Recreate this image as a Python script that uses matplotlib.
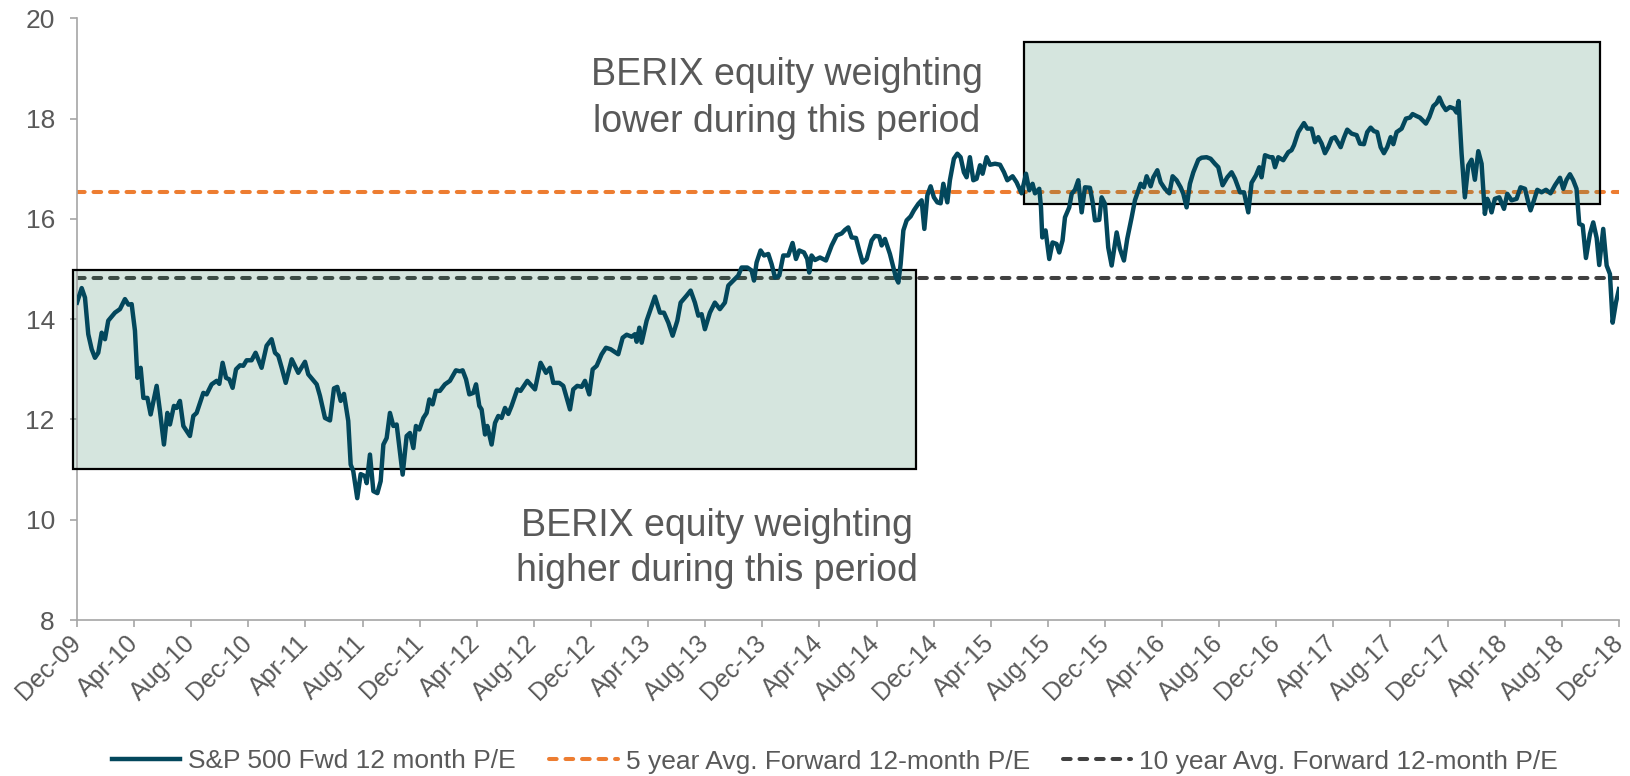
import matplotlib

matplotlib.use("Agg")

import matplotlib.pyplot as plt
from matplotlib.patches import Rectangle

# ========================
# Data
# ========================
# months since Dec-09 and S&P 500 forward 12 month P/E
pe_month = [
    0.0, 0.33, 0.56, 0.79, 1.03, 1.26, 1.49, 1.73, 1.96, 2.19, 2.66, 3.01, 3.36, 3.60, 3.83,
    4.06, 4.23, 4.46, 4.65, 4.93, 5.16, 5.58, 5.81, 6.09, 6.33, 6.51, 6.79, 6.98, 7.21, 7.45,
    7.91, 8.15, 8.38, 8.85, 9.08, 9.43, 9.78, 9.97, 10.20, 10.44, 10.67, 10.90, 11.14, 11.42,
    11.65, 11.88, 12.23, 12.51, 12.93, 13.28, 13.63, 13.87, 14.10, 14.34, 14.62, 15.04, 15.50,
    15.97, 16.20, 16.79, 17.02, 17.37, 17.72, 18.00, 18.23, 18.47, 18.70, 19.00, 19.17, 19.35,
    19.63, 19.87, 20.17, 20.29, 20.52, 20.76, 21.04, 21.27, 21.46, 21.69, 21.92, 22.16, 22.39,
    22.81, 23.09, 23.32, 23.56, 23.74, 23.98, 24.26, 24.49, 24.68, 24.91, 25.14,
    25.42, 25.77, 26.12, 26.54, 26.82, 27.01, 27.25, 27.48, 27.76, 27.95, 28.18, 28.34, 28.58,
    28.74, 29.04, 29.28, 29.51, 29.74, 29.98, 30.21, 30.44, 30.84, 31.07, 31.54, 32.08, 32.47,
    32.85, 33.13, 33.36, 33.78, 34.06, 34.53, 34.76, 35.04, 35.35, 35.58, 35.88, 36.12, 36.40,
    36.75, 37.05, 37.38, 37.91, 38.22, 38.50, 38.85, 39.08, 39.20, 39.39, 39.55, 39.90, 40.18,
    40.48, 40.83, 41.11, 41.42, 41.72, 42.05, 42.28, 42.70, 42.98, 43.28, 43.52, 43.75, 43.98,
    44.33, 44.68, 45.03, 45.38, 45.62, 45.97, 46.32, 46.55, 46.95, 47.25, 47.42, 47.60, 47.88,
    48.12, 48.42, 48.65, 48.89, 49.19, 49.47, 49.82, 50.12, 50.36, 50.59, 50.92, 51.15, 51.29,
    51.45, 51.69, 52.04, 52.46, 52.86, 53.21, 53.56, 53.79,
    54.02, 54.26, 54.56, 54.79, 55.03, 55.31, 55.66, 55.89, 56.19, 56.36, 56.59, 56.94, 57.18,
    57.36, 57.53, 57.69, 57.88, 58.11, 58.39, 58.62, 58.93, 59.16, 59.35, 59.56, 59.79, 60.02,
    60.26, 60.49, 60.68, 60.96, 61.14, 61.42, 61.66, 61.89, 62.12, 62.31, 62.54, 62.78, 63.01,
    63.25, 63.43, 63.71, 63.95, 64.30, 64.65, 64.93, 65.16, 65.53, 65.81, 66.16, 66.47, 66.70,
    66.93, 67.10, 67.40, 67.52, 67.61, 67.84, 68.10, 68.33, 68.61, 68.80, 69.03, 69.20, 69.50,
    69.67, 69.90, 70.13, 70.37, 70.60, 70.95, 71.14, 71.30, 71.60, 71.77, 72.00, 72.23, 72.47,
    72.82, 73.05, 73.33, 73.56, 73.87, 74.10, 74.50, 74.73, 74.92, 75.20, 75.39, 75.67, 75.90,
    76.20, 76.51, 76.74, 77.02, 77.30, 77.49, 77.72, 77.95, 78.19, 78.54, 78.77, 79.12, 79.40,
    79.70, 79.94, 80.24, 80.57, 80.87, 81.11, 81.46, 81.74, 82.04,
    82.27, 82.58, 82.81, 82.97, 83.21, 83.56, 83.74, 83.91, 84.14, 84.49, 84.84, 85.07, 85.24,
    85.54, 85.94, 86.17, 86.48, 86.71, 86.94, 87.18, 87.41, 87.64, 87.88, 88.11, 88.51, 88.74,
    88.97, 89.28, 89.63, 89.86, 90.14, 90.37, 90.61, 90.84, 91.07, 91.31, 91.54, 91.77, 92.01,
    92.20, 92.43, 92.78, 93.08, 93.36, 93.55, 93.83, 94.06, 94.48, 94.72, 95.00, 95.23, 95.42,
    95.65, 95.88, 96.16, 96.44, 96.63, 96.77, 96.98, 97.21, 97.45, 97.68, 97.91, 98.15, 98.38,
    98.61, 98.78, 98.96, 99.08, 99.31, 99.62, 99.95, 100.18, 100.48, 100.83, 101.11, 101.42,
    101.65, 101.81, 102.05, 102.28, 102.58, 102.89, 103.21, 103.52, 103.87, 104.10, 104.33,
    104.57, 104.80, 105.03, 105.22, 105.46, 105.69, 105.97, 106.20, 106.44, 106.62, 106.90,
    107.14, 107.37, 107.56, 107.79, 108.0,
]
pe_value = [
    14.33, 14.62, 14.43, 13.70, 13.40, 13.23, 13.33, 13.73, 13.60, 13.97, 14.13, 14.20, 14.40, 14.29, 14.30,
    13.77, 12.83, 13.03, 12.43, 12.43, 12.10, 12.67, 12.17, 11.50, 12.13, 11.90, 12.27, 12.23, 12.37, 11.87,
    11.67, 12.07, 12.13, 12.53, 12.50, 12.70, 12.77, 12.71, 13.13, 12.83, 12.80, 12.63, 13.00, 13.08,
    13.07, 13.18, 13.18, 13.33, 13.03, 13.47, 13.60, 13.33, 13.27, 13.03, 12.73, 13.20, 12.93,
    13.15, 12.90, 12.70, 12.47, 12.03, 11.98, 12.62, 12.65, 12.37, 12.51, 11.97, 11.10, 10.97,
    10.43, 10.91, 10.87, 10.73, 11.30, 10.57, 10.53, 10.77, 11.50, 11.63, 12.13, 11.87, 11.90,
    10.90, 11.67, 11.73, 11.43, 11.87, 11.80, 12.03, 12.13, 12.40, 12.30, 12.57,
    12.57, 12.70, 12.77, 12.98, 12.96, 12.98, 12.80, 12.50, 12.53, 12.70, 12.27, 12.20, 11.70,
    11.87, 11.50, 11.93, 12.07, 12.03, 12.23, 12.11, 12.27, 12.60, 12.57, 12.77, 12.60, 13.13,
    12.93, 13.03, 12.73, 12.73, 12.67, 12.20, 12.60, 12.67, 12.65, 12.77, 12.50, 13.00, 13.07,
    13.30, 13.43, 13.40, 13.30, 13.63, 13.69, 13.65, 13.70, 13.55, 13.83, 13.53, 13.97, 14.20,
    14.45, 14.13, 14.13, 13.93, 13.67, 13.97, 14.33, 14.47, 14.57, 14.33, 14.07, 14.10, 13.80,
    14.13, 14.33, 14.20, 14.33, 14.67, 14.77, 14.87, 15.03, 15.03, 14.97, 14.77, 15.13, 15.37,
    15.27, 15.30, 15.10, 14.83, 14.87, 15.27, 15.27, 15.52, 15.20, 15.37, 15.33, 15.20, 14.93,
    15.27, 15.18, 15.23, 15.17, 15.47, 15.67, 15.71, 15.78,
    15.83, 15.63, 15.62, 15.37, 15.13, 15.20, 15.57, 15.66, 15.65, 15.47, 15.60, 15.30, 15.03,
    14.83, 14.73, 15.10, 15.77, 15.97, 16.05, 16.17, 16.30, 16.37, 15.80, 16.47, 16.65, 16.43,
    16.33, 16.31, 16.70, 16.33, 16.77, 17.20, 17.30, 17.23, 16.93, 16.83, 17.23, 16.77, 16.80,
    17.07, 16.90, 17.23, 17.08, 17.10, 17.08, 16.93, 16.77, 16.85, 16.73, 16.51, 16.90, 16.57,
    16.70, 16.51, 16.60, 16.23, 15.63, 15.77, 15.20, 15.53, 15.50, 15.33, 15.57, 16.03, 16.23,
    16.50, 16.58, 16.77, 16.13, 16.63, 16.62, 16.33, 15.97, 15.98, 16.43, 16.30, 15.43, 15.07,
    15.73, 15.40, 15.17, 15.60, 16.03, 16.37, 16.70, 16.63, 16.85, 16.65, 16.83, 16.97, 16.73,
    16.60, 16.51, 16.85, 16.77, 16.63, 16.50, 16.23, 16.70, 16.93, 17.18, 17.22, 17.23, 17.20,
    17.10, 17.03, 16.67, 16.83, 16.93, 16.80, 16.53, 16.53, 16.13,
    16.72, 16.87, 17.03, 16.83, 17.27, 17.23, 17.23, 17.03, 17.23, 17.17, 17.33, 17.37, 17.47,
    17.73, 17.91, 17.80, 17.80, 17.53, 17.63, 17.50, 17.31, 17.43, 17.60, 17.63, 17.43, 17.62,
    17.78, 17.70, 17.67, 17.50, 17.49, 17.73, 17.82, 17.75, 17.73, 17.43, 17.31, 17.43, 17.63,
    17.49, 17.73, 17.80, 18.00, 18.02, 18.09, 18.05, 18.02, 17.90, 18.03, 18.25, 18.31, 18.42,
    18.27, 18.17, 18.23, 18.20, 18.12, 18.35, 17.30, 16.43, 17.07, 17.18, 16.78, 17.35, 17.10,
    16.10, 16.40, 16.27, 16.13, 16.40, 16.43, 16.20, 16.50, 16.37, 16.40, 16.63, 16.60,
    16.33, 16.17, 16.37, 16.58, 16.53, 16.58, 16.51, 16.67, 16.82, 16.60, 16.78,
    16.89, 16.77, 16.60, 15.90, 15.87, 15.22, 15.70, 15.93, 15.62, 15.08, 15.80,
    15.07, 14.90, 13.93, 14.33, 14.60,
]

avg_5yr = 16.53
avg_10yr = 14.83

tick_labels = [
    "Dec-09", "Apr-10", "Aug-10", "Dec-10", "Apr-11", "Aug-11", "Dec-11", "Apr-12", "Aug-12",
    "Dec-12", "Apr-13", "Aug-13", "Dec-13", "Apr-14", "Aug-14", "Dec-14", "Apr-15", "Aug-15",
    "Dec-15", "Apr-16", "Aug-16", "Dec-16", "Apr-17", "Aug-17", "Dec-17", "Apr-18", "Aug-18",
    "Dec-18",
]

# shaded periods: (start month, end month, low P/E, high P/E)
box_higher = (-0.26, 58.74, 11.02, 14.98)
box_lower = (66.30, 106.67, 16.29, 19.52)

label_higher = ["BERIX equity weighting", "higher during this period"]
label_lower = ["BERIX equity weighting", "lower during this period"]

series_names = [
    "S&P 500 Fwd 12 month P/E",
    "5 year Avg. Forward 12-month P/E",
    "10 year Avg. Forward 12-month P/E",
]

# ========================
# Styles
# ========================
LINE_COLOR = "#03475c"
ORANGE = "#ed7d31"
DARK = "#404040"
TEXT_COLOR = "#595959"
AXIS_COLOR = "#a6a6a6"
BOX_COLOR = (0.18, 0.49, 0.37)

plt.rcParams["font.family"] = ["Liberation Sans", "DejaVu Sans"]

fig = plt.figure(figsize=(16.31, 7.76), dpi=100)
ax = fig.add_axes([0.0472, 0.2010, 0.9454, 0.7754])

x_end = len(tick_labels) * 4 - 4
dash = (0, (1.9, 2.2))

(l1,) = ax.plot(pe_month, pe_value, color=LINE_COLOR, lw=3.2, solid_joinstyle="round", zorder=3)
(l2,) = ax.plot([0, x_end], [avg_5yr, avg_5yr], color=ORANGE, lw=2.9, linestyle=dash,
                dash_capstyle="round", zorder=2)
(l3,) = ax.plot([0, x_end], [avg_10yr, avg_10yr], color=DARK, lw=2.9, linestyle=dash,
                dash_capstyle="round", zorder=2)

for x0, x1, y0, y1 in (box_higher, box_lower):
    ax.add_patch(Rectangle((x0, y0), x1 - x0, y1 - y0, facecolor=BOX_COLOR, alpha=0.2,
                           edgecolor="none", zorder=2.5, clip_on=False))
    ax.add_patch(Rectangle((x0, y0), x1 - x0, y1 - y0, facecolor="none",
                           edgecolor="black", lw=1.6, zorder=2.6, clip_on=False))

# annotations
for txt, yb in zip(label_lower, (18.67, 17.74)):
    ax.text(49.7, yb, txt, ha="center", va="baseline", fontsize=27, color=TEXT_COLOR)
for txt, yb in zip(label_higher, (9.67, 8.78)):
    ax.text(44.8, yb, txt, ha="center", va="baseline", fontsize=27, color=TEXT_COLOR)

ax.set_xlim(0, x_end)
ax.set_ylim(8, 20)
ax.set_yticks(range(8, 21, 2))
ax.set_xticks(range(0, x_end + 1, 4))
ax.set_xticklabels(tick_labels, rotation=45, ha="right", va="center", rotation_mode="anchor")

for side in ("top", "right"):
    ax.spines[side].set_visible(False)
for side in ("left", "bottom"):
    ax.spines[side].set_color(AXIS_COLOR)
    ax.spines[side].set_linewidth(1.2)
ax.tick_params(axis="both", colors=AXIS_COLOR, labelcolor=TEXT_COLOR, length=5, width=1.2)
ax.tick_params(axis="y", pad=11, labelsize=19)
ax.tick_params(axis="x", pad=9, labelsize=18)

fig.legend([l1, l2, l3], series_names, loc="center", bbox_to_anchor=(0.512, 1 - 761.5 / 776),
           ncol=3, frameon=False, fontsize=19, labelcolor=TEXT_COLOR, handlelength=2.6,
           handletextpad=0.3, columnspacing=1.25)

fig.savefig("out.png", dpi=100)
